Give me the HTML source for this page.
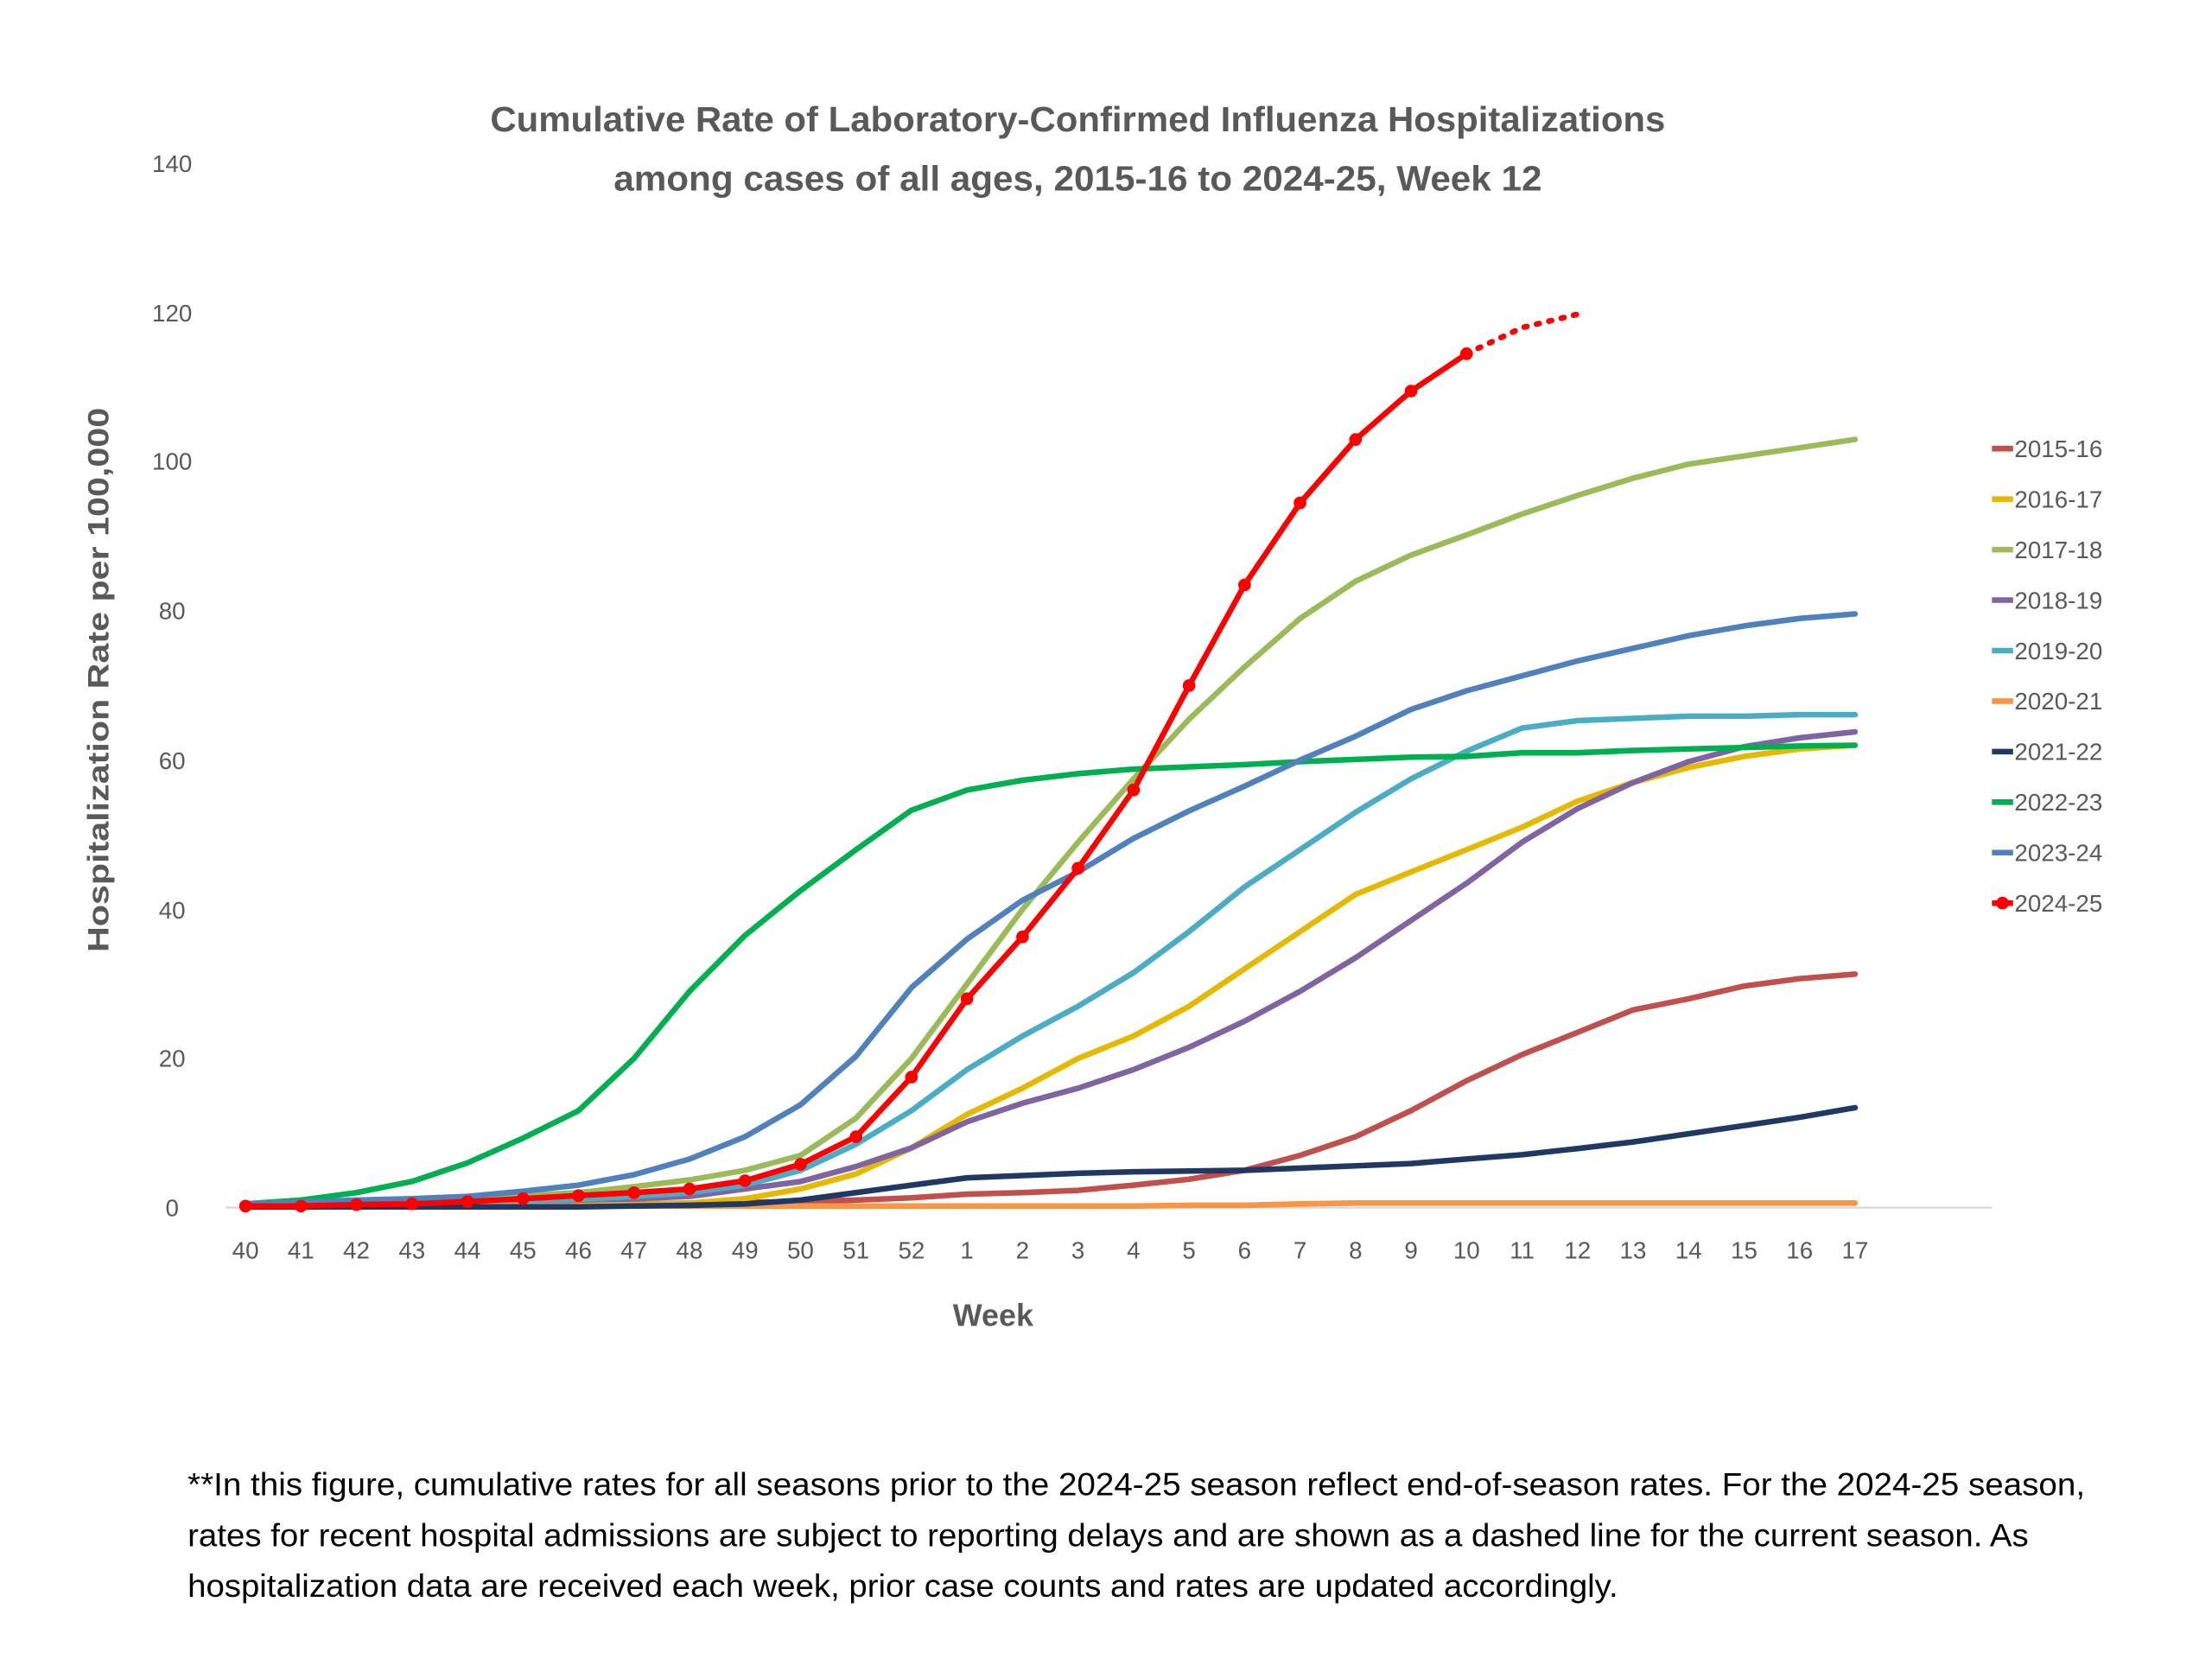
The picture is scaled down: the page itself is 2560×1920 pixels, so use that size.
<!DOCTYPE html>
<html><head><meta charset="utf-8"><style>html,body{margin:0;padding:0;background:#fff}svg{display:block}</style></head>
<body>
<svg xmlns="http://www.w3.org/2000/svg" width="2560" height="1920" viewBox="0 0 1568 1176" font-family="Liberation Sans, sans-serif">
<rect width="1568" height="1176" fill="#fff"/>
<text x="764" y="93" text-anchor="middle" font-size="25" font-weight="bold" fill="#595959" textLength="833" lengthAdjust="spacingAndGlyphs">Cumulative Rate of Laboratory-Confirmed Influenza Hospitalizations</text>
<text x="764" y="135" text-anchor="middle" font-size="25" font-weight="bold" fill="#595959" textLength="658" lengthAdjust="spacingAndGlyphs">among cases of all ages, 2015-16 to 2024-25, Week 12</text>
<g font-size="17" fill="#595959" text-anchor="middle">
<text x="122" y="862">0</text><text x="122" y="756">20</text><text x="122" y="651">40</text><text x="122" y="545">60</text><text x="122" y="439">80</text><text x="122" y="333">100</text><text x="122" y="228">120</text><text x="122" y="122">140</text>
</g>
<text transform="translate(77,482) rotate(-90)" text-anchor="middle" font-size="21" font-weight="bold" fill="#595959" textLength="386" lengthAdjust="spacingAndGlyphs">Hospitalization Rate per 100,000</text>
<line x1="160" y1="856" x2="1412" y2="856" stroke="#d9d9d9" stroke-width="1.5"/>
<g id="xl" font-size="17" fill="#595959" text-anchor="middle"></g>
<text x="704" y="940" text-anchor="middle" font-size="22" font-weight="bold" fill="#595959">Week</text>
<g id="series" fill="none" stroke-width="4" stroke-linejoin="round" stroke-linecap="round"></g>
<g id="legend" font-size="17" fill="#595959"></g>
<g font-size="22.5" fill="#000">
<text x="133" y="1060" textLength="1345" lengthAdjust="spacingAndGlyphs">**In this figure, cumulative rates for all seasons prior to the 2024-25 season reflect end-of-season rates. For the 2024-25 season,</text>
<text x="133" y="1096" textLength="1305" lengthAdjust="spacingAndGlyphs">rates for recent hospital admissions are subject to reporting delays and are shown as a dashed line for the current season. As</text>
<text x="133" y="1132" textLength="1014" lengthAdjust="spacingAndGlyphs">hospitalization data are received each week, prior case counts and rates are updated accordingly.</text>
</g>
<script>
var NS="http://www.w3.org/2000/svg";
function X(i){return 174+i*39.345;}function Y(v){return 856-v*5.286;}
var weeks=[40,41,42,43,44,45,46,47,48,49,50,51,52,1,2,3,4,5,6,7,8,9,10,11,12,13,14,15,16,17];
var xl=document.getElementById('xl');
weeks.forEach(function(w,i){var t=document.createElementNS(NS,'text');t.setAttribute('x',X(i));t.setAttribute('y',892);t.textContent=w;xl.appendChild(t);});
var S=[
["2015-16","#C0504D",[0.2,0.2,0.2,0.2,0.3,0.3,0.4,0.5,0.6,0.7,0.8,1,1.3,1.8,2,2.3,3,3.8,5,7,9.5,13,17,20.5,23.5,26.5,28,29.7,30.7,31.3]],
["2016-17","#E6B800",[0.3,0.3,0.3,0.3,0.3,0.3,0.3,0.4,0.6,1.2,2.5,4.5,8,12.5,16,20,23,27,32,37,42,45,48,51,54.5,57,59,60.5,61.5,62]],
["2017-18","#9BBB59",[0.3,0.5,0.7,0.9,1.2,1.6,2,2.8,3.7,5,7,12,20,30,40,49,57.5,65.5,72.5,79,84,87.5,90.2,93,95.5,97.8,99.7,100.8,101.9,103]],
["2018-19","#8064A2",[0.3,0.3,0.4,0.5,0.6,0.8,1,1.2,1.5,2.5,3.5,5.5,8,11.5,14,16,18.5,21.5,25,29,33.5,38.5,43.5,49,53.5,57,59.8,61.8,63,63.8]],
["2019-20","#4BACC6",[0.3,0.3,0.4,0.5,0.7,0.9,1.1,1.5,2,3,5,8.5,13,18.5,23,27,31.5,37,43,48,53,57.5,61.2,64.3,65.3,65.6,65.9,65.9,66.1,66.1]],
["2020-21","#F79646",[0.2,0.2,0.2,0.2,0.2,0.2,0.2,0.2,0.2,0.2,0.2,0.2,0.2,0.2,0.2,0.2,0.2,0.3,0.3,0.5,0.6,0.6,0.6,0.6,0.6,0.6,0.6,0.6,0.6,0.6]],
["2021-22","#1F3864",[0.1,0.1,0.1,0.1,0.1,0.1,0.1,0.2,0.3,0.5,1,2,3,4,4.3,4.6,4.8,4.9,5,5.3,5.6,5.9,6.5,7.1,7.9,8.8,9.9,11,12.1,13.4]],
["2022-23","#00B050",[0.5,1,2,3.5,6,9.3,13,20,29,36.5,42.5,48,53.3,56,57.3,58.2,58.8,59.1,59.4,59.8,60.1,60.4,60.5,61,61,61.3,61.5,61.7,61.9,62]],
["2023-24","#4F81BD",[0.5,0.7,1,1.2,1.5,2.2,3,4.4,6.5,9.5,13.8,20.3,29.5,36,41.2,45,49.5,53.2,56.5,60,63.2,66.8,69.3,71.3,73.3,75,76.7,78,79,79.6]],
["2024-25","#FF0000",[0.2,0.2,0.4,0.5,0.8,1.2,1.6,2,2.5,3.6,5.8,9.5,17.5,28,36.3,45.5,56,70,83.5,94.5,103,109.5,114.5]]
];
var g=document.getElementById('series'),lg=document.getElementById('legend');
S.forEach(function(s,k){
 var p=s[2].map(function(v,i){return X(i).toFixed(1)+','+Y(v).toFixed(1);}).join(' ');
 var pl=document.createElementNS(NS,'polyline');pl.setAttribute('points',p);pl.setAttribute('stroke',s[1]);g.appendChild(pl);
 var ly=318+35.8*k;
 var l=document.createElementNS(NS,'line');l.setAttribute('x1',1412);l.setAttribute('x2',1427);l.setAttribute('y1',ly);l.setAttribute('y2',ly);l.setAttribute('stroke',s[1]);l.setAttribute('stroke-width',4);lg.appendChild(l);
 var t=document.createElementNS(NS,'text');t.setAttribute('x',1428);t.setAttribute('y',ly+6);t.textContent=s[0];lg.appendChild(t);
 if(k==9){
  s[2].forEach(function(v,i){var c=document.createElementNS(NS,'circle');c.setAttribute('cx',X(i));c.setAttribute('cy',Y(v));c.setAttribute('r',4.5);c.setAttribute('fill','#FF0000');c.setAttribute('stroke','none');g.appendChild(c);});
  var d=document.createElementNS(NS,'polyline');d.setAttribute('points',X(22)+','+Y(114.5)+' '+X(23)+','+Y(118)+' '+X(24)+','+Y(119.8));d.setAttribute('stroke','#FF0000');d.setAttribute('stroke-dasharray','2 7');g.appendChild(d);
  var c=document.createElementNS(NS,'circle');c.setAttribute('cx',1419.5);c.setAttribute('cy',ly);c.setAttribute('r',4.5);c.setAttribute('fill','#FF0000');lg.appendChild(c);
 }
});
</script>
</svg>
</body></html>
